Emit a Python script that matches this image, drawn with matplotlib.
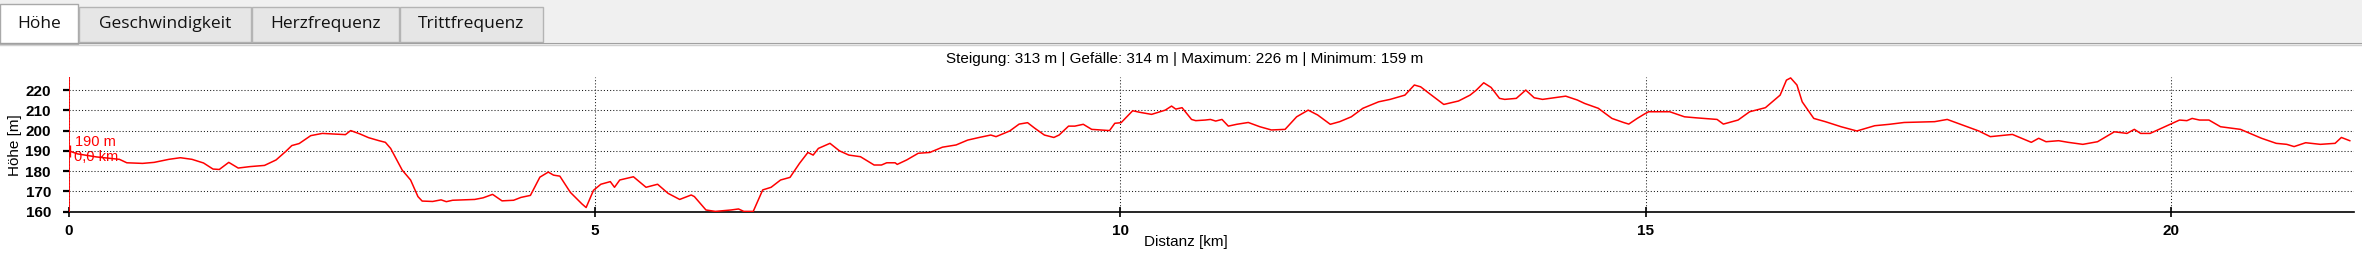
import matplotlib
matplotlib.use("Agg")
import matplotlib.pyplot as plt
from matplotlib.patches import Rectangle

# ---------------- data ----------------
distance_km = [
    0.00, 0.08, 0.26, 0.48, 0.55, 0.70, 0.81, 0.95, 1.06, 1.17, 1.28, 1.37, 1.43, 1.52, 1.61,
    1.72, 1.86, 1.97, 2.06, 2.12, 2.19, 2.30, 2.41, 2.63, 2.68, 2.77, 2.85, 2.95, 3.01, 3.06,
    3.17, 3.25, 3.32, 3.36, 3.46, 3.54, 3.59, 3.65, 3.86, 3.94, 4.03, 4.12, 4.23, 4.30, 4.39,
    4.48, 4.56, 4.61, 4.67, 4.77, 4.88, 4.92, 4.99,
    5.06, 5.15, 5.19, 5.24, 5.37, 5.49, 5.60, 5.70, 5.81, 5.92, 5.95, 6.06, 6.15, 6.30, 6.37,
    6.42, 6.51, 6.60, 6.68, 6.77, 6.86, 6.95, 7.03, 7.08, 7.13, 7.24, 7.33, 7.42, 7.53, 7.66,
    7.73, 7.78, 7.86, 7.88, 7.97, 8.08, 8.19, 8.31, 8.44, 8.55, 8.66, 8.77, 8.82, 8.88, 8.95,
    9.04, 9.12, 9.19, 9.28, 9.37, 9.42, 9.51, 9.57, 9.65, 9.73, 9.90, 9.95, 10.01, 10.12, 10.19,
    10.30, 10.43, 10.49, 10.53, 10.59, 10.68, 10.72,
    10.81, 10.86, 10.91, 10.97, 11.03, 11.11, 11.22, 11.33, 11.44, 11.57, 11.68, 11.79, 11.88,
    12.00, 12.09, 12.20, 12.31, 12.46, 12.57, 12.71, 12.80, 12.86, 12.95, 13.08, 13.22, 13.33,
    13.39, 13.46, 13.53, 13.61, 13.66, 13.77, 13.86, 13.94, 14.02, 14.13, 14.24, 14.35, 14.42,
    14.55, 14.68, 14.79, 14.84, 14.92, 14.99, 15.03, 15.23, 15.37, 15.48, 15.68, 15.74, 15.88,
    15.99, 16.14, 16.28, 16.34, 16.38,
    16.44, 16.49, 16.60, 16.71, 16.86, 17.01, 17.18, 17.32, 17.46, 17.75, 17.87, 17.99, 18.17,
    18.28, 18.49, 18.67, 18.74, 18.81, 18.93, 19.02, 19.16, 19.30, 19.46, 19.58, 19.65, 19.71,
    19.80, 19.94, 20.08, 20.15, 20.20, 20.27, 20.36, 20.47, 20.66, 20.86, 21.00, 21.10, 21.17,
    21.28, 21.42, 21.56, 21.62, 21.70,
]
elevation_m = [
    190.0, 188.5, 187.0, 185.8, 184.1, 183.8, 184.3, 185.8, 186.6, 185.8, 184.0, 181.0, 180.8, 184.3, 181.5,
    182.2, 182.8, 185.5, 189.6, 192.6, 193.6, 197.5, 198.6, 198.0, 200.0, 198.3, 196.5, 195.0, 194.2, 191.2,
    180.5, 175.6, 167.4, 165.2, 165.0, 165.8, 164.9, 165.6, 166.0, 166.8, 168.5, 165.3, 165.6, 167.0, 168.0,
    177.0, 179.5, 178.0, 177.5, 169.5, 163.8, 162.0, 170.5,
    173.5, 174.8, 172.0, 175.6, 177.2, 172.0, 173.5, 169.0, 166.0, 168.2, 167.4, 160.8, 160.1, 160.8, 161.3,
    160.1, 160.1, 170.7, 172.0, 175.6, 176.9, 183.8, 189.2, 187.9, 191.2, 193.7, 190.0, 187.9, 187.1, 183.0,
    183.0, 184.1, 184.1, 183.3, 185.5, 188.8, 189.2, 191.8, 192.9, 195.3, 196.6, 197.8, 197.0, 198.3, 199.8,
    203.2, 203.9, 201.1, 197.8, 196.6, 197.8, 202.2, 202.2, 203.1, 200.6, 200.0, 203.6, 203.9, 209.8, 209.0,
    208.0, 210.1, 212.1, 210.6, 211.3, 205.5, 204.9,
    205.2, 205.5, 204.7, 205.5, 202.2, 203.1, 204.0, 201.9, 200.3, 200.6, 206.8, 210.1, 207.7,
    203.1, 204.4, 206.8, 211.0, 214.2, 215.4, 217.5, 222.5, 221.6, 218.0, 212.9, 214.6, 217.5,
    220.0, 223.6, 221.3, 215.9, 215.4, 215.9, 220.0, 216.2, 215.4, 216.2, 217.0, 215.1, 213.4,
    211.0, 206.0, 204.0, 203.2, 206.0, 208.2, 209.3, 209.3, 206.8, 206.3, 205.5, 203.2, 205.2,
    209.3, 211.3, 217.5, 224.9, 226.0,
    222.5, 214.2, 206.0, 204.4, 201.9, 199.8, 202.4, 203.1, 204.0, 204.4, 205.5, 203.2, 199.8,
    197.0, 198.1, 194.2, 196.2, 194.5, 195.0, 194.2, 193.2, 194.5, 199.4, 198.6, 200.6, 198.6,
    198.6, 201.9, 205.2, 204.9, 206.0, 205.2, 205.2, 201.9, 200.6, 196.2, 193.7, 193.2, 192.1,
    194.0, 193.2, 193.7, 196.6, 195.0,
]
x_ticks = [0, 5, 10, 15, 20]
y_ticks = [160, 170, 180, 190, 200, 210, 220]
tab_labels = ["Höhe", "Geschwindigkeit", "Herzfrequenz", "Trittfrequenz"]
summary = "Steigung: 313 m | Gefälle: 314 m | Maximum: 226 m | Minimum: 159 m"
cursor_km = 0.0
cursor_m = 190
cursor_texts = ["190 m", "0,0 km"]

# ---------------- figure ----------------
W, H = 2362, 267
fig = plt.figure(figsize=(W / 100, H / 100), dpi=100)
fig.patch.set_facecolor("white")

# overlay in pixel coordinates for the UI chrome
ov = fig.add_axes([0, 0, 1, 1])
ov.set_xlim(0, W)
ov.set_ylim(H, 0)
ov.axis("off")

ov.add_patch(Rectangle((0, 0), W, 42, facecolor="#f0f0f0", edgecolor="none"))
tab_edges = [(0, 78), (79, 251), (252, 399), (400, 543)]
for i, (lab, (x0, x1)) in enumerate(zip(tab_labels, tab_edges)):
    if i == 0:
        ov.add_patch(Rectangle((x0, 4), x1 - x0, 40, facecolor="white",
                               edgecolor="#a9a9a9", linewidth=1))
    else:
        ov.add_patch(Rectangle((x0, 7), x1 - x0, 35, facecolor="#e6e6e6",
                               edgecolor="#b4b4b4", linewidth=1))
    ov.text((x0 + x1) / 2, 23.5, lab, ha="center", va="center",
            fontsize=12.5, family="Open Sans", color="#111111")
ov.plot([0, W], [42.5, 42.5], color="#a0a0a0", lw=1.0)
ov.plot([0, W], [44.5, 44.5], color="#d0d0d0", lw=1.0)

ov.text(1185, 59.5, summary, ha="center", va="center", fontsize=11,
        family="Liberation Sans", color="black")
ov.text(1186, 242, "Distanz [km]", ha="center", va="center", fontsize=11,
        family="Liberation Sans", color="black")
ov.text(15, 145, "Höhe [m]", ha="center", va="center", rotation=90, fontsize=11,
        family="Liberation Sans", color="black")

# ---------------- chart ----------------
x0p, x1p, ytop, ybot = 69, 2354, 76.7, 212
ax = fig.add_axes([x0p / W, 1 - ybot / H, (x1p - x0p) / W, (ybot - ytop) / H])
ax.patch.set_alpha(0)
ax.set_xlim(0, 21.74)
ax.set_ylim(159.8, 226.6)
ax.set_xticks(x_ticks)
ax.set_yticks(y_ticks)
ax.grid(True, color="#1a1a1a", linestyle=(0, (1, 2)), linewidth=0.75)
ax.set_axisbelow(True)
for s in ["top", "right", "left"]:
    ax.spines[s].set_visible(False)
ax.spines["bottom"].set_color("black")
ax.spines["bottom"].set_linewidth(1.2)
ax.tick_params(axis="y", direction="out", length=4, width=1.6, pad=9, colors="black")
ax.tick_params(axis="x", direction="inout", length=7, width=1.2, pad=5, colors="black")
for lbl in ax.get_xticklabels() + ax.get_yticklabels():
    lbl.set_fontfamily("Liberation Sans")
    lbl.set_fontweight("bold")
    lbl.set_fontsize(11)

ax.plot(distance_km, elevation_m, color="#ff0000", lw=1.1, zorder=3)
ax.axvline(cursor_km, color="#ff0000", lw=1.3, zorder=4)
ax.plot([cursor_km], [cursor_m], marker="|", ms=8, mew=2.4, color="#ff0000", zorder=5)

ov.text(75, 142.5, cursor_texts[0], ha="left", va="center", fontsize=10.5,
        family="Liberation Sans", color="#ff0000")
ov.text(74, 157, cursor_texts[1], ha="left", va="center", fontsize=10.5,
        family="Liberation Sans", color="#ff0000")

fig.savefig("out.png", dpi=100)
